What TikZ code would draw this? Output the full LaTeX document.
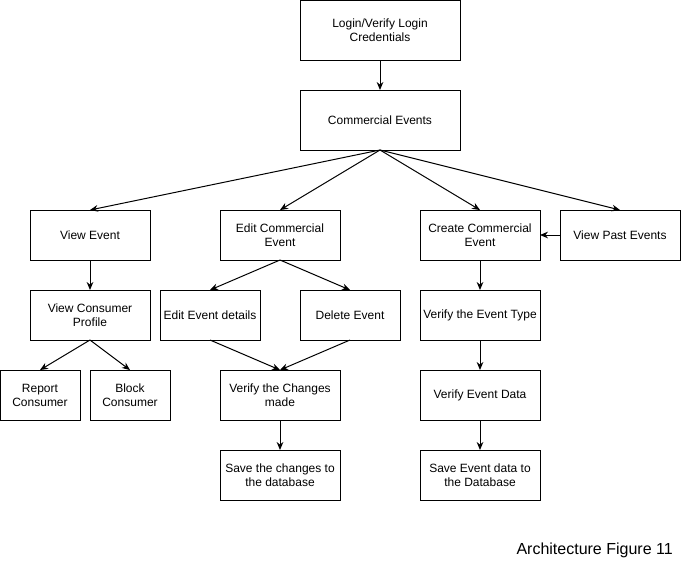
\documentclass[tikz,border=0pt]{standalone}
\usepackage{fontspec}
\setmainfont{Liberation Sans}
\usetikzlibrary{arrows.meta,positioning}

\begin{document}
\begin{tikzpicture}[
  x=0.75pt,y=-0.75pt,
  flowbox/.style={draw,line width=0.75pt,minimum width=90pt,minimum height=37.5pt,
    inner sep=0pt,outer sep=0pt,align=center,font=\fontsize{9}{10.5}\selectfont},
  smallbox/.style={flowbox,minimum width=75pt},
  tinybox/.style={flowbox,minimum width=60pt},
  flowarrow/.style={-{Stealth[length=6pt,width=5pt]},line width=0.75pt}
]
  \useasboundingbox (0,0) rectangle (681,561);
  % Top
  \node[flowbox,minimum width=120pt,minimum height=45pt] (login) at (380,30) {Login/Verify Login\\Credentials};
  \node[flowbox,minimum width=120pt,minimum height=45pt] (comm) at (380,120) {Commercial Events};
  % Second row
  \node[flowbox] (view) at (90,235) {View Event};
  \node[flowbox] (edit) at (280,235) {Edit Commercial\\Event};
  \node[flowbox] (create) at (480,235) {Create Commercial\\Event};
  \node[flowbox] (past) at (620,235) {View Past Events};
  % Third row
  \node[flowbox] (profile) at (90,315) {View Consumer\\Profile};
  \node[smallbox] (details) at (210,315) {Edit Event details};
  \node[smallbox] (delete) at (350,315) {Delete Event};
  \node[flowbox] (type) at (480,315) {Verify the Event Type};
  % Fourth row
  \node[tinybox] (report) at (40,395) {Report\\Consumer};
  \node[tinybox] (block) at (130,395) {Block\\Consumer};
  \node[flowbox] (changes) at (280,395) {Verify the Changes\\made};
  \node[flowbox] (data) at (480,395) {Verify Event Data};
  % Bottom
  \node[flowbox] (savech) at (280,475) {Save the changes to\\the database};
  \node[flowbox] (saveev) at (480,475) {Save Event data to\\the Database};
  % Caption
  \node[anchor=east,inner sep=0pt,font=\fontsize{12}{14}\selectfont] (caption) at (673,550) {Architecture Figure 11};
  % Arrows
  \draw[flowarrow] (login.south) -- (comm.north);
  \draw[flowarrow] (comm.south) -- (view.north);
  \draw[flowarrow] (comm.south) -- (edit.north);
  \draw[flowarrow] (comm.south) -- (create.north);
  \draw[flowarrow] (comm.south) -- (past.north);
  \draw[flowarrow] (past.west) -- (create.east);
  \draw[flowarrow] (view.south) -- (profile.north);
  \draw[flowarrow] (profile.south) -- (report.north);
  \draw[flowarrow] (profile.south) -- (block.north);
  \draw[flowarrow] (edit.south) -- (details.north);
  \draw[flowarrow] (edit.south) -- (delete.north);
  \draw[flowarrow] (details.south) -- (changes.north);
  \draw[flowarrow] (delete.south) -- (changes.north);
  \draw[flowarrow] (changes.south) -- (savech.north);
  \draw[flowarrow] (create.south) -- (type.north);
  \draw[flowarrow] (type.south) -- (data.north);
  \draw[flowarrow] (data.south) -- (saveev.north);
\end{tikzpicture}
\end{document}
